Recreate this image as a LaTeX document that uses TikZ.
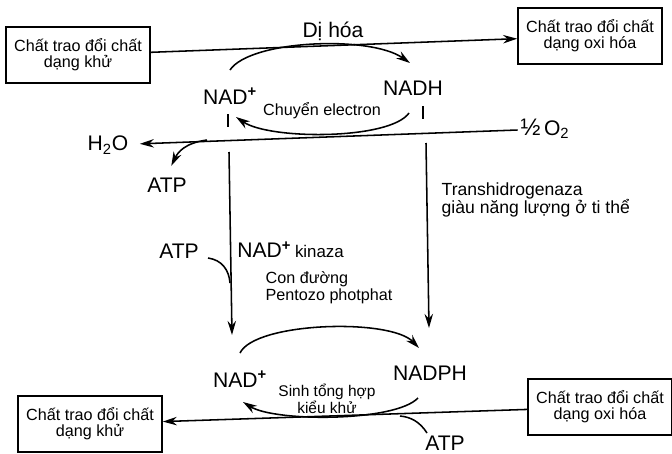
\documentclass[tikz,border=0pt]{standalone}
\usepackage{fontspec}
\setmainfont{Liberation Sans}
\usepackage{tikz}
\usetikzlibrary{arrows.meta,calc}

\newcommand\tightls{\lineskiplimit-\maxdimen\relax}

\tikzset{
  box/.style={draw, line width=1.1pt, align=center, minimum width=3.6cm,
    minimum height=1.4cm, inner sep=2pt, font=\fontsize{11.5}{11.5}\selectfont},
  big/.style={font=\fontsize{15}{17}\selectfont, inner sep=2pt},
  lbl/.style={align=left, inner sep=1pt},
  ln/.style={line width=1.1pt},
  arr/.style={ln, -{Stealth[length=10pt,width=6pt]}}
}

\begin{document}
\begin{tikzpicture}[x=0.025cm, y=-0.025cm]
\useasboundingbox (0,0) rectangle (672,454);

% Di hoa
\node[box] (khu1) at (78,55) {Chất trao đổi chất\\dạng khử};
\node[box] (oxi1) at (590,36) {Chất trao đổi chất\\dạng oxi hóa};
\draw[arr] (khu1) -- (oxi1);
\node[big] (dihoa) at (333,31) {Dị hóa};

% NAD+ / NADH
\node[big] (nad1) at (230,96) {NAD\textsuperscript{\textbf{+}}};
\node[big] (nadh) at (413,88) {NADH};
\coordinate (c1a) at (230,70);
\coordinate (c1b) at (410,63);
\draw[arr] (c1a) .. controls +(20,-30) and +(-40,-28) .. (c1b);
\coordinate (c2a) at (409,113);
\coordinate (c2b) at (236,117);
\draw[arr] (c2a) .. controls +(-19,27) and +(34,23) .. (c2b);
\node[lbl, font=\fontsize{11.5}{12}\selectfont] (chuyen) at (322,111) {Chuyển electron};

% chuoi ho hap
\node[big] (o2) at (545,129) {{\fontsize{17}{17}\selectfont ½}\,O\textsubscript{2}};
\node[big] (h2o) at (108,145) {H\textsubscript{2}O};
\draw[arr, shorten >=6pt] (o2) -- (h2o);
\node[big] (atp1) at (167,185) {ATP};
\coordinate (r1) at (207,140);
\draw[arr, shorten >=7pt] (r1) .. controls (185,143) and (178,152) .. (atp1.north);

% vach ngan
\coordinate (v1a) at (228,114);
\coordinate (v1b) at (228,127);
\draw[ln] (v1a) -- (v1b);
\coordinate (v2a) at (423,106);
\coordinate (v2b) at (423,119);
\draw[ln] (v2a) -- (v2b);

% duong xuong
\coordinate (v1c) at (229,152);
\coordinate (v1d) at (232,335);
\draw[arr] (v1c) -- (v1d);
\coordinate (v2c) at (426,143);
\coordinate (v2d) at (429,328);
\draw[arr] (v2c) -- (v2d);

% NAD+ kinaza
\node[big] (atp2) at (179,251) {ATP};
\coordinate (k1) at (208,258);
\coordinate (k2) at (230,283);
\draw[ln] (k1) .. controls (222,260) and (229,270) .. (k2);
\node[anchor=west, inner sep=0pt] (kinaza) at (237,250)
  {{\fontsize{15}{17}\selectfont NAD\textsuperscript{\textbf{+}}} {\fontsize{12}{14}\selectfont kinaza}};
\node[lbl, anchor=west, font=\fontsize{11.5}{12}\selectfont\tightls] (pentozo) at (264,288)
  {Con đường\\Pentozo photphat};
\node[lbl, anchor=west, font=\fontsize{12.5}{13}\selectfont\tightls] (trans) at (440,200)
  {Transhidrogenaza\\giàu năng lượng ở ti thể};

% NAD+ / NADPH
\node[big] (nad2) at (240,379) {NAD\textsuperscript{\textbf{+}}};
\node[big] (nadph) at (430,373) {NADPH};
\coordinate (c3a) at (240,353);
\coordinate (c3b) at (419,348);
\draw[arr] (c3a) .. controls +(15,-31) and +(-29,-30) .. (c3b);
\coordinate (c4a) at (418,398);
\coordinate (c4b) at (243,402);
\draw[arr] (c4a) .. controls +(-23,24) and +(32,20) .. (c4b);
\node[lbl, align=center, font=\fontsize{11}{12}\selectfont\tightls] (sinh) at (327,399)
  {Sinh tổng hợp\\kiểu khử};

% Sinh tong hop
\node[box] (khu2) at (90,424) {Chất trao đổi chất\\dạng khử};
\node[box] (oxi2) at (600,407) {Chất trao đổi chất\\dạng oxi hóa};
\draw[arr] (oxi2) -- (khu2);
\node[big, inner sep=0pt] (atp3) at (445,443) {ATP};
\coordinate (s1) at (400,416);
\coordinate (s2) at (427,433);
\draw[ln] (s2) .. controls (420,422) and (411,417) .. (s1);
\end{tikzpicture}
\end{document}
